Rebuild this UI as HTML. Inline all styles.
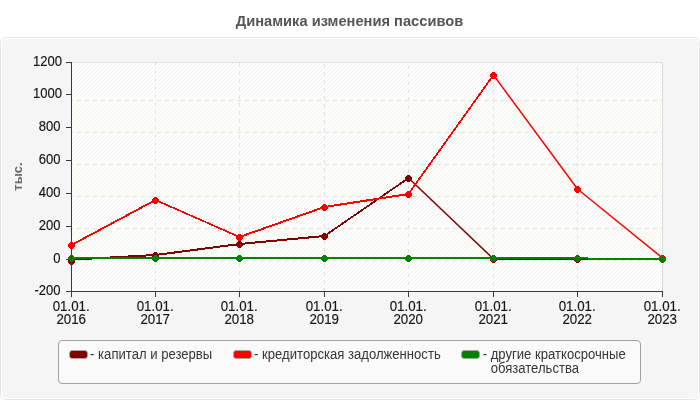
<!DOCTYPE html>
<html><head><meta charset="utf-8"><title>chart</title>
<style>
html,body{margin:0;padding:0;background:#fff;}
body{width:700px;height:400px;overflow:hidden;font-family:"Liberation Sans",sans-serif;}
svg{display:block;will-change:transform;}
text{font-family:"Liberation Sans",sans-serif;}
</style></head><body>
<svg width="700" height="400" viewBox="0 0 700 400">
<defs>
<pattern id="hatch" x="1" y="3" width="4" height="4" patternUnits="userSpaceOnUse">
<path d="M-1,5 L5,-1 M-1,1 L1,-1 M3,5 L5,3" stroke="#efefef" stroke-width="0.9" fill="none"/>
</pattern>
</defs>
<rect width="700" height="400" fill="#ffffff"/>

<text x="349.5" y="25.7" text-anchor="middle" font-size="14.67" font-weight="bold" fill="#555555">Динамика изменения пассивов</text>
<rect x="0.5" y="37.5" width="699" height="362" rx="5.5" ry="5.5" fill="#ffffff" stroke="#e5e5e5" stroke-width="1"/>
<rect x="2" y="39" width="696" height="359" rx="4.5" ry="4.5" fill="#f5f5f5"/>
<rect x="72" y="62" width="591" height="229" fill="#ffffff"/>
<rect x="72" y="62" width="591" height="229" fill="url(#hatch)"/>
<rect x="72" y="100" width="590" height="32" fill="#fafaec" fill-opacity="0.33"/>
<rect x="72" y="164" width="590" height="32" fill="#fafaec" fill-opacity="0.33"/>
<rect x="72" y="228" width="590" height="32" fill="#fafaec" fill-opacity="0.33"/>
<path d="M72,62.5 H662.5 V291" stroke="#dddddd" stroke-width="1" fill="none"/>
<line x1="72" y1="100.5" x2="662" y2="100.5" stroke="#e1e1e1" stroke-width="1" stroke-dasharray="4,4" stroke-dashoffset="3"/>
<line x1="72" y1="132.5" x2="662" y2="132.5" stroke="#e1e1e1" stroke-width="1" stroke-dasharray="4,4" stroke-dashoffset="3"/>
<line x1="72" y1="164.5" x2="662" y2="164.5" stroke="#e1e1e1" stroke-width="1" stroke-dasharray="4,4" stroke-dashoffset="3"/>
<line x1="72" y1="196.5" x2="662" y2="196.5" stroke="#e1e1e1" stroke-width="1" stroke-dasharray="4,4" stroke-dashoffset="3"/>
<line x1="72" y1="228.5" x2="662" y2="228.5" stroke="#e1e1e1" stroke-width="1" stroke-dasharray="4,4" stroke-dashoffset="3"/>
<line x1="72" y1="260.5" x2="662" y2="260.5" stroke="#e1e1e1" stroke-width="1" stroke-dasharray="4,4" stroke-dashoffset="3"/>
<line x1="155.5" y1="62" x2="155.5" y2="291" stroke="#e1e1e1" stroke-width="1" stroke-dasharray="4,4" stroke-dashoffset="0"/>
<line x1="239.5" y1="62" x2="239.5" y2="291" stroke="#e1e1e1" stroke-width="1" stroke-dasharray="4,4" stroke-dashoffset="7"/>
<line x1="324.5" y1="62" x2="324.5" y2="291" stroke="#e1e1e1" stroke-width="1" stroke-dasharray="4,4" stroke-dashoffset="6"/>
<line x1="408.5" y1="62" x2="408.5" y2="291" stroke="#e1e1e1" stroke-width="1" stroke-dasharray="4,4" stroke-dashoffset="5"/>
<line x1="493.5" y1="62" x2="493.5" y2="291" stroke="#e1e1e1" stroke-width="1" stroke-dasharray="4,4" stroke-dashoffset="4"/>
<line x1="577.5" y1="62" x2="577.5" y2="291" stroke="#e1e1e1" stroke-width="1" stroke-dasharray="4,4" stroke-dashoffset="3"/>
<line x1="66" y1="62.5" x2="71" y2="62.5" stroke="#3a3a3a" stroke-width="1"/>
<text transform="translate(62.0,65.9) scale(0.98,1.08)" text-anchor="end" font-size="13.33" fill="#161616" stroke="#161616" stroke-width="0.15">1200</text>
<line x1="66" y1="94.5" x2="71" y2="94.5" stroke="#3a3a3a" stroke-width="1"/>
<text transform="translate(62.0,97.9) scale(0.98,1.08)" text-anchor="end" font-size="13.33" fill="#161616" stroke="#161616" stroke-width="0.15">1000</text>
<line x1="66" y1="127.5" x2="71" y2="127.5" stroke="#3a3a3a" stroke-width="1"/>
<text transform="translate(60.6,130.9) scale(0.98,1.08)" text-anchor="end" font-size="13.33" fill="#161616" stroke="#161616" stroke-width="0.15">800</text>
<line x1="66" y1="160.5" x2="71" y2="160.5" stroke="#3a3a3a" stroke-width="1"/>
<text transform="translate(60.6,163.9) scale(0.98,1.08)" text-anchor="end" font-size="13.33" fill="#161616" stroke="#161616" stroke-width="0.15">600</text>
<line x1="66" y1="193.5" x2="71" y2="193.5" stroke="#3a3a3a" stroke-width="1"/>
<text transform="translate(60.6,196.9) scale(0.98,1.08)" text-anchor="end" font-size="13.33" fill="#161616" stroke="#161616" stroke-width="0.15">400</text>
<line x1="66" y1="226.5" x2="71" y2="226.5" stroke="#3a3a3a" stroke-width="1"/>
<text transform="translate(60.6,229.9) scale(0.98,1.08)" text-anchor="end" font-size="13.33" fill="#161616" stroke="#161616" stroke-width="0.15">200</text>
<line x1="66" y1="259.5" x2="71" y2="259.5" stroke="#3a3a3a" stroke-width="1"/>
<text transform="translate(60.6,262.9) scale(0.98,1.08)" text-anchor="end" font-size="13.33" fill="#161616" stroke="#161616" stroke-width="0.15">0</text>
<line x1="66" y1="291.5" x2="71" y2="291.5" stroke="#3a3a3a" stroke-width="1"/>
<text transform="translate(60.6,294.9) scale(0.98,1.08)" text-anchor="end" font-size="13.33" fill="#161616" stroke="#161616" stroke-width="0.15">-200</text>
<line x1="71.5" y1="292" x2="71.5" y2="297" stroke="#3a3a3a" stroke-width="1"/>
<text transform="translate(71.2,310.6) scale(1,1.08)" text-anchor="middle" font-size="13.33" fill="#161616" stroke="#161616" stroke-width="0.15">01.01.</text>
<text transform="translate(71.2,323.7) scale(1,1.08)" text-anchor="middle" font-size="13.33" fill="#161616" stroke="#161616" stroke-width="0.15">2016</text>
<line x1="155.5" y1="292" x2="155.5" y2="297" stroke="#3a3a3a" stroke-width="1"/>
<text transform="translate(155.2,310.6) scale(1,1.08)" text-anchor="middle" font-size="13.33" fill="#161616" stroke="#161616" stroke-width="0.15">01.01.</text>
<text transform="translate(155.2,323.7) scale(1,1.08)" text-anchor="middle" font-size="13.33" fill="#161616" stroke="#161616" stroke-width="0.15">2017</text>
<line x1="239.5" y1="292" x2="239.5" y2="297" stroke="#3a3a3a" stroke-width="1"/>
<text transform="translate(239.2,310.6) scale(1,1.08)" text-anchor="middle" font-size="13.33" fill="#161616" stroke="#161616" stroke-width="0.15">01.01.</text>
<text transform="translate(239.2,323.7) scale(1,1.08)" text-anchor="middle" font-size="13.33" fill="#161616" stroke="#161616" stroke-width="0.15">2018</text>
<line x1="324.5" y1="292" x2="324.5" y2="297" stroke="#3a3a3a" stroke-width="1"/>
<text transform="translate(324.2,310.6) scale(1,1.08)" text-anchor="middle" font-size="13.33" fill="#161616" stroke="#161616" stroke-width="0.15">01.01.</text>
<text transform="translate(324.2,323.7) scale(1,1.08)" text-anchor="middle" font-size="13.33" fill="#161616" stroke="#161616" stroke-width="0.15">2019</text>
<line x1="408.5" y1="292" x2="408.5" y2="297" stroke="#3a3a3a" stroke-width="1"/>
<text transform="translate(408.2,310.6) scale(1,1.08)" text-anchor="middle" font-size="13.33" fill="#161616" stroke="#161616" stroke-width="0.15">01.01.</text>
<text transform="translate(408.2,323.7) scale(1,1.08)" text-anchor="middle" font-size="13.33" fill="#161616" stroke="#161616" stroke-width="0.15">2020</text>
<line x1="493.5" y1="292" x2="493.5" y2="297" stroke="#3a3a3a" stroke-width="1"/>
<text transform="translate(493.2,310.6) scale(1,1.08)" text-anchor="middle" font-size="13.33" fill="#161616" stroke="#161616" stroke-width="0.15">01.01.</text>
<text transform="translate(493.2,323.7) scale(1,1.08)" text-anchor="middle" font-size="13.33" fill="#161616" stroke="#161616" stroke-width="0.15">2021</text>
<line x1="577.5" y1="292" x2="577.5" y2="297" stroke="#3a3a3a" stroke-width="1"/>
<text transform="translate(577.2,310.6) scale(1,1.08)" text-anchor="middle" font-size="13.33" fill="#161616" stroke="#161616" stroke-width="0.15">01.01.</text>
<text transform="translate(577.2,323.7) scale(1,1.08)" text-anchor="middle" font-size="13.33" fill="#161616" stroke="#161616" stroke-width="0.15">2022</text>
<line x1="662.5" y1="292" x2="662.5" y2="297" stroke="#3a3a3a" stroke-width="1"/>
<text transform="translate(662.2,310.6) scale(1,1.08)" text-anchor="middle" font-size="13.33" fill="#161616" stroke="#161616" stroke-width="0.15">01.01.</text>
<text transform="translate(662.2,323.7) scale(1,1.08)" text-anchor="middle" font-size="13.33" fill="#161616" stroke="#161616" stroke-width="0.15">2023</text>
<text transform="translate(21.8,176.5) rotate(-90)" text-anchor="middle" font-size="13" font-weight="bold" fill="#6a6a6a">тыс.</text>
<g>
<line x1="71.50" y1="259.60" x2="155.50" y2="255.00" stroke="#800000" stroke-width="2.01" stroke-linecap="butt" shape-rendering="crispEdges"/>
<line x1="155.50" y1="255.00" x2="239.50" y2="244.00" stroke="#800000" stroke-width="2.01" stroke-linecap="butt" shape-rendering="crispEdges"/>
<line x1="239.50" y1="244.00" x2="324.50" y2="236.00" stroke="#800000" stroke-width="2.01" stroke-linecap="butt" shape-rendering="crispEdges"/>
<line x1="324.50" y1="236.00" x2="408.50" y2="178.00" stroke="#800000" stroke-width="1.76" stroke-linecap="butt" shape-rendering="crispEdges"/>
<line x1="408.50" y1="178.00" x2="493.50" y2="259.00" stroke="#800000" stroke-width="1.5" stroke-linecap="butt"/>
<line x1="493.50" y1="259.00" x2="577.50" y2="259.00" stroke="#800000" stroke-width="2.00" stroke-linecap="butt" shape-rendering="crispEdges"/>
<line x1="577.50" y1="259.00" x2="662.50" y2="259.00" stroke="#800000" stroke-width="2.00" stroke-linecap="butt" shape-rendering="crispEdges"/>
</g>
<g>
<line x1="71.50" y1="245.00" x2="155.50" y2="200.00" stroke="#ff0000" stroke-width="1.86" stroke-linecap="butt" shape-rendering="crispEdges"/>
<line x1="155.50" y1="200.00" x2="239.50" y2="237.00" stroke="#ff0000" stroke-width="1.67" stroke-linecap="butt" shape-rendering="crispEdges"/>
<line x1="239.50" y1="237.00" x2="324.50" y2="207.00" stroke="#ff0000" stroke-width="1.95" stroke-linecap="butt" shape-rendering="crispEdges"/>
<line x1="324.50" y1="207.00" x2="408.50" y2="194.00" stroke="#ff0000" stroke-width="2.01" stroke-linecap="butt" shape-rendering="crispEdges"/>
<line x1="408.50" y1="194.00" x2="493.50" y2="75.00" stroke="#ff0000" stroke-width="1.74" stroke-linecap="butt" shape-rendering="crispEdges"/>
<line x1="493.50" y1="75.00" x2="577.50" y2="189.00" stroke="#ff0000" stroke-width="1.5" stroke-linecap="butt"/>
<line x1="577.50" y1="189.00" x2="662.50" y2="258.00" stroke="#ff0000" stroke-width="1.5" stroke-linecap="butt"/>
</g>
<g>
<line x1="71.50" y1="258.00" x2="155.50" y2="258.00" stroke="#008000" stroke-width="2.00" stroke-linecap="butt" shape-rendering="crispEdges"/>
<line x1="155.50" y1="258.00" x2="239.50" y2="258.00" stroke="#008000" stroke-width="2.00" stroke-linecap="butt" shape-rendering="crispEdges"/>
<line x1="239.50" y1="258.00" x2="324.50" y2="258.00" stroke="#008000" stroke-width="2.00" stroke-linecap="butt" shape-rendering="crispEdges"/>
<line x1="324.50" y1="258.00" x2="408.50" y2="258.00" stroke="#008000" stroke-width="2.00" stroke-linecap="butt" shape-rendering="crispEdges"/>
<line x1="408.50" y1="258.00" x2="493.50" y2="258.00" stroke="#008000" stroke-width="2.00" stroke-linecap="butt" shape-rendering="crispEdges"/>
<line x1="493.50" y1="258.00" x2="577.50" y2="258.00" stroke="#008000" stroke-width="2.00" stroke-linecap="butt" shape-rendering="crispEdges"/>
<line x1="577.50" y1="258.00" x2="588.00" y2="258.00" stroke="#008000" stroke-width="2.00" stroke-linecap="butt" shape-rendering="crispEdges"/>
<line x1="588.00" y1="259.00" x2="662.50" y2="259.00" stroke="#008000" stroke-width="2.00" stroke-linecap="butt" shape-rendering="crispEdges"/>
</g>
<path d="M70.0,258.0 h3 v1 h1 v1 h1 v3 h-1 v1 h-1 v1 h-3 v-1 h-1 v-1 h-1 v-3 h1 v-1 h1 z" fill="#800000" shape-rendering="crispEdges"/>
<path d="M154.0,252.0 h3 v1 h1 v1 h1 v3 h-1 v1 h-1 v1 h-3 v-1 h-1 v-1 h-1 v-3 h1 v-1 h1 z" fill="#800000" shape-rendering="crispEdges"/>
<path d="M238.0,241.0 h3 v1 h1 v1 h1 v3 h-1 v1 h-1 v1 h-3 v-1 h-1 v-1 h-1 v-3 h1 v-1 h1 z" fill="#800000" shape-rendering="crispEdges"/>
<path d="M323.0,233.0 h3 v1 h1 v1 h1 v3 h-1 v1 h-1 v1 h-3 v-1 h-1 v-1 h-1 v-3 h1 v-1 h1 z" fill="#800000" shape-rendering="crispEdges"/>
<path d="M407.0,175.0 h3 v1 h1 v1 h1 v3 h-1 v1 h-1 v1 h-3 v-1 h-1 v-1 h-1 v-3 h1 v-1 h1 z" fill="#800000" shape-rendering="crispEdges"/>
<path d="M492.0,256.0 h3 v1 h1 v1 h1 v3 h-1 v1 h-1 v1 h-3 v-1 h-1 v-1 h-1 v-3 h1 v-1 h1 z" fill="#800000" shape-rendering="crispEdges"/>
<path d="M576.0,256.0 h3 v1 h1 v1 h1 v3 h-1 v1 h-1 v1 h-3 v-1 h-1 v-1 h-1 v-3 h1 v-1 h1 z" fill="#800000" shape-rendering="crispEdges"/>
<path d="M661.0,256.0 h3 v1 h1 v1 h1 v3 h-1 v1 h-1 v1 h-3 v-1 h-1 v-1 h-1 v-3 h1 v-1 h1 z" fill="#800000" shape-rendering="crispEdges"/>
<path d="M70.0,242.0 h3 v1 h1 v1 h1 v3 h-1 v1 h-1 v1 h-3 v-1 h-1 v-1 h-1 v-3 h1 v-1 h1 z" fill="#ff0000" shape-rendering="crispEdges"/>
<path d="M154.0,197.0 h3 v1 h1 v1 h1 v3 h-1 v1 h-1 v1 h-3 v-1 h-1 v-1 h-1 v-3 h1 v-1 h1 z" fill="#ff0000" shape-rendering="crispEdges"/>
<path d="M238.0,234.0 h3 v1 h1 v1 h1 v3 h-1 v1 h-1 v1 h-3 v-1 h-1 v-1 h-1 v-3 h1 v-1 h1 z" fill="#ff0000" shape-rendering="crispEdges"/>
<path d="M323.0,204.0 h3 v1 h1 v1 h1 v3 h-1 v1 h-1 v1 h-3 v-1 h-1 v-1 h-1 v-3 h1 v-1 h1 z" fill="#ff0000" shape-rendering="crispEdges"/>
<path d="M407.0,191.0 h3 v1 h1 v1 h1 v3 h-1 v1 h-1 v1 h-3 v-1 h-1 v-1 h-1 v-3 h1 v-1 h1 z" fill="#ff0000" shape-rendering="crispEdges"/>
<path d="M492.0,72.0 h3 v1 h1 v1 h1 v3 h-1 v1 h-1 v1 h-3 v-1 h-1 v-1 h-1 v-3 h1 v-1 h1 z" fill="#ff0000" shape-rendering="crispEdges"/>
<path d="M576.0,186.0 h3 v1 h1 v1 h1 v3 h-1 v1 h-1 v1 h-3 v-1 h-1 v-1 h-1 v-3 h1 v-1 h1 z" fill="#ff0000" shape-rendering="crispEdges"/>
<path d="M661.0,255.0 h3 v1 h1 v1 h1 v3 h-1 v1 h-1 v1 h-3 v-1 h-1 v-1 h-1 v-3 h1 v-1 h1 z" fill="#ff0000" shape-rendering="crispEdges"/>
<path d="M70.0,255.0 h3 v1 h1 v1 h1 v3 h-1 v1 h-1 v1 h-3 v-1 h-1 v-1 h-1 v-3 h1 v-1 h1 z" fill="#008000" shape-rendering="crispEdges"/>
<path d="M154.0,255.0 h3 v1 h1 v1 h1 v3 h-1 v1 h-1 v1 h-3 v-1 h-1 v-1 h-1 v-3 h1 v-1 h1 z" fill="#008000" shape-rendering="crispEdges"/>
<path d="M238.0,255.0 h3 v1 h1 v1 h1 v3 h-1 v1 h-1 v1 h-3 v-1 h-1 v-1 h-1 v-3 h1 v-1 h1 z" fill="#008000" shape-rendering="crispEdges"/>
<path d="M323.0,255.0 h3 v1 h1 v1 h1 v3 h-1 v1 h-1 v1 h-3 v-1 h-1 v-1 h-1 v-3 h1 v-1 h1 z" fill="#008000" shape-rendering="crispEdges"/>
<path d="M407.0,255.0 h3 v1 h1 v1 h1 v3 h-1 v1 h-1 v1 h-3 v-1 h-1 v-1 h-1 v-3 h1 v-1 h1 z" fill="#008000" shape-rendering="crispEdges"/>
<path d="M492.0,255.0 h3 v1 h1 v1 h1 v3 h-1 v1 h-1 v1 h-3 v-1 h-1 v-1 h-1 v-3 h1 v-1 h1 z" fill="#008000" shape-rendering="crispEdges"/>
<path d="M576.0,255.0 h3 v1 h1 v1 h1 v3 h-1 v1 h-1 v1 h-3 v-1 h-1 v-1 h-1 v-3 h1 v-1 h1 z" fill="#008000" shape-rendering="crispEdges"/>
<path d="M661.0,256.0 h3 v1 h1 v1 h1 v3 h-1 v1 h-1 v1 h-3 v-1 h-1 v-1 h-1 v-3 h1 v-1 h1 z" fill="#008000" shape-rendering="crispEdges"/>
<path d="M71.5,62 V292 M71,291.5 H663" stroke="#3a3a3a" stroke-width="1" fill="none"/>
<rect x="58.5" y="340.5" width="582" height="43" rx="3.5" ry="3.5" fill="#fafafa" stroke="#a2a2a2" stroke-width="1"/>
<polygon points="71.0,350.0 86.0,350.0 88.0,352.0 88.0,357.0 86.0,359.0 71.0,359.0 69.0,357.0 69.0,352.0" fill="#a6a8a8"/>
<polygon points="71.5,351.0 85.5,351.0 87.0,352.5 87.0,356.5 85.5,358.0 71.5,358.0 70.0,356.5 70.0,352.5" fill="#800000"/>
<text transform="translate(90.1,358.6) scale(1,1.08)" font-size="13.1" fill="#363636">- капитал и резервы</text>
<polygon points="235.0,350.0 250.0,350.0 252.0,352.0 252.0,357.0 250.0,359.0 235.0,359.0 233.0,357.0 233.0,352.0" fill="#a6a8a8"/>
<polygon points="235.5,351.0 249.5,351.0 251.0,352.5 251.0,356.5 249.5,358.0 235.5,358.0 234.0,356.5 234.0,352.5" fill="#ff0000"/>
<text transform="translate(254.1,358.6) scale(1,1.08)" font-size="13.1" fill="#363636">- кредиторская задолженность</text>
<polygon points="463.0,350.0 478.0,350.0 480.0,352.0 480.0,357.0 478.0,359.0 463.0,359.0 461.0,357.0 461.0,352.0" fill="#a6a8a8"/>
<polygon points="463.5,351.0 477.5,351.0 479.0,352.5 479.0,356.5 477.5,358.0 463.5,358.0 462.0,356.5 462.0,352.5" fill="#008000"/>
<text transform="translate(482.7,358.6) scale(1,1.08)" font-size="13.1" fill="#363636">- другие краткосрочные</text>
<text transform="translate(490.7,372.9) scale(1,1.08)" font-size="13.1" fill="#363636">обязательства</text>
</svg></body></html>
